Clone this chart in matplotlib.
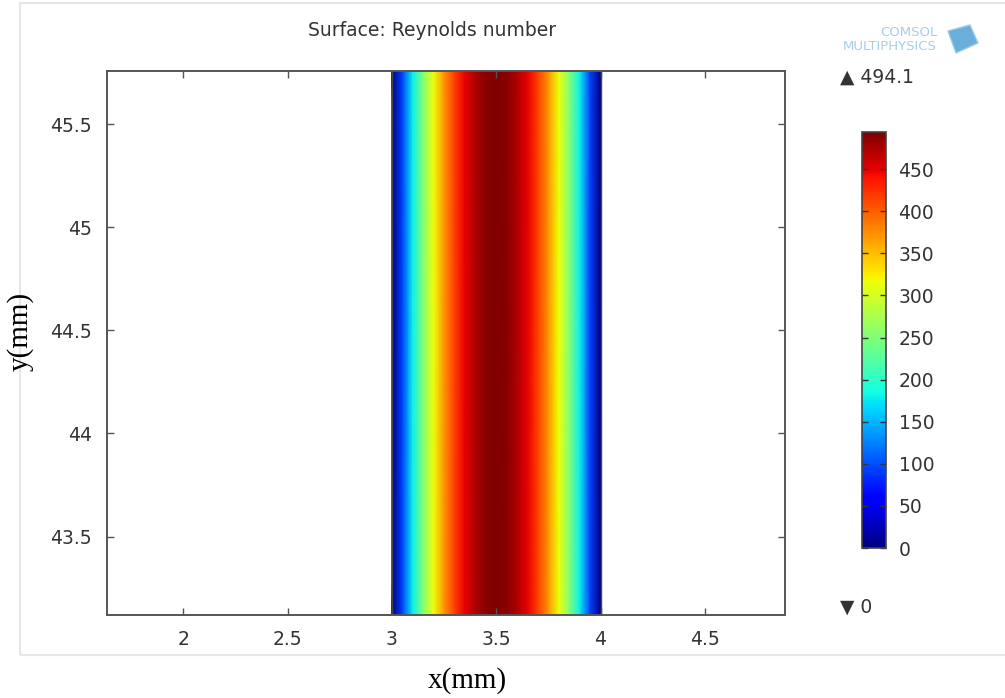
#!/usr/bin/env python3
"""COMSOL-style surface plot of the Reynolds number across a channel."""

import matplotlib
matplotlib.use("Agg")
import matplotlib.pyplot as plt
from matplotlib.patches import Rectangle, Polygon
import numpy as np

# channel cross-section positions (mm) and Reynolds number
x_pos = [3.00, 3.05, 3.10, 3.15, 3.20, 3.25, 3.30, 3.35, 3.40, 3.45, 3.50,
         3.55, 3.60, 3.65, 3.70, 3.75, 3.80, 3.85, 3.90, 3.95, 4.00]
reynolds = [0, 94, 178, 252, 316, 371, 415, 449, 474, 489, 494.1,
            489, 474, 449, 415, 371, 316, 252, 178, 94, 0]
y_range = [43.12, 45.757]
x_range = [1.635, 4.884]

x_ticks = [2, 2.5, 3, 3.5, 4, 4.5]
x_tick_labels = ["2", "2.5", "3", "3.5", "4", "4.5"]
y_ticks = [43.5, 44, 44.5, 45, 45.5]
y_tick_labels = ["43.5", "44", "44.5", "45", "45.5"]
cbar_ticks = [0, 50, 100, 150, 200, 250, 300, 350, 400, 450]
re_max = 494.1
re_min = 0

TXT = "#333333"
SPINE = "#555555"
FS = 13.5

fig = plt.figure(figsize=(10.05, 6.98), dpi=100)

# light frame around the exported COMSOL picture
fig.add_artist(Rectangle((20 / 1005, 1 - 655 / 698), 990 / 1005, 652 / 698,
                         transform=fig.transFigure, fill=False,
                         edgecolor="#e6e6e6", lw=1.6))

ax = fig.add_axes([107 / 1005, 1 - 615 / 698, 678 / 1005, 544 / 698])
xx, yy = np.meshgrid(np.array(x_pos), np.array(y_range))
zz = np.vstack([reynolds, reynolds])
mesh = ax.pcolormesh(xx, yy, zz, cmap="jet", shading="gouraud",
                     vmin=re_min, vmax=re_max)
ax.axvline(3.0, color="#444444", lw=1.0)
ax.axvline(4.0, color="#444444", lw=1.0)
ax.set_xlim(x_range)
ax.set_ylim(y_range)
ax.set_xticks(x_ticks)
ax.set_xticklabels(x_tick_labels)
ax.set_yticks(y_ticks)
ax.set_yticklabels(y_tick_labels)
ax.tick_params(direction="in", length=5, width=1.0, color=SPINE,
               labelsize=FS, labelcolor=TXT, top=True, right=True)
ax.tick_params(axis="x", pad=11)
ax.tick_params(axis="y", pad=11)
for s in ax.spines.values():
    s.set_color(SPINE)
    s.set_linewidth(1.4)

# colorbar
cax = fig.add_axes([862 / 1005, 1 - 548 / 698, 24 / 1005, 416 / 698])
cb = fig.colorbar(mesh, cax=cax)
cb.set_ticks(cbar_ticks)
cax.tick_params(direction="in", length=4, width=1.0, color="#333333",
                labelsize=FS, labelcolor=TXT, left=True, right=True, pad=9)
cb.outline.set_edgecolor("#444444")
cb.outline.set_linewidth(1.2)

# max / min markers
fig.text(840 / 1005, 1 - 77 / 698, "\u25b2 " + str(re_max), fontsize=FS,
         color=TXT, va="center", ha="left")
fig.text(840 / 1005, 1 - 607 / 698, "\u25bc " + str(re_min), fontsize=FS,
         color=TXT, va="center", ha="left")

fig.text(432 / 1005, 1 - 31 / 698, "Surface: Reynolds number", fontsize=FS,
         color=TXT, ha="center", va="center")

# logo
logo = "#a6cfe6"
fig.text(937 / 1005, 1 - 32 / 698, "COMSOL", fontsize=9.5, color=logo,
         ha="right", va="center")
fig.text(937 / 1005, 1 - 46 / 698, "MULTIPHYSICS", fontsize=9.5, color=logo,
         ha="right", va="center")
cube = Polygon([[948 / 1005, 1 - 31 / 698], [970 / 1005, 1 - 25 / 698],
                [978 / 1005, 1 - 43 / 698], [956 / 1005, 1 - 53 / 698]],
               closed=True, transform=fig.transFigure, facecolor="#6aaedb",
               edgecolor="#9ccbe8", lw=1.0)
fig.add_artist(cube)

# axis labels outside the COMSOL frame
fig.text(467 / 1005, 1 - 681 / 698, "x(mm)", fontsize=21,
         family="Liberation Serif", ha="center", va="center")
fig.text(20 / 1005, 1 - 331 / 698, "y(mm)", fontsize=21, rotation=90,
         family="Liberation Serif", ha="center", va="center")

fig.savefig("out.png", dpi=100)
